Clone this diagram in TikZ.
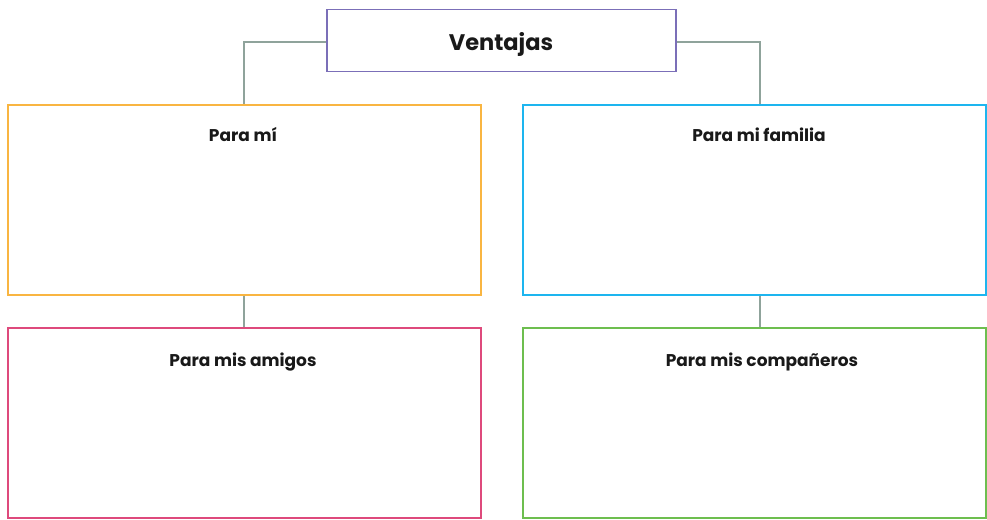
\documentclass[tikz,border=0pt]{standalone}
\usepackage{fontspec}
\setmainfont{Poppins}
\definecolor{cpurple}{HTML}{7B6FB8}
\definecolor{corange}{HTML}{F9B541}
\definecolor{cblue}{HTML}{1DB5EF}
\definecolor{cpink}{HTML}{DE4A7C}
\definecolor{cgreen}{HTML}{6DBE4F}
\definecolor{cgray}{HTML}{8FA39B}
\begin{document}
\begin{tikzpicture}[x=1pt,y=-1pt,
  boxframe/.style={draw=#1,line width=1.7pt,fill=white,rectangle,inner sep=0pt,
    minimum width=473pt,minimum height=190pt},
  conn/.style={draw=cgray,line width=1.8pt},
  lbl/.style={font=\fontsize{17}{20}\selectfont\bfseries,text=black!90,anchor=base},
  ttl/.style={font=\fontsize{22.5}{26}\selectfont\bfseries,text=black!90,anchor=base}]
\useasboundingbox (0,0) rectangle (987,519);
% boxes
\node[boxframe=cpurple,minimum width=349pt,minimum height=62pt] (t) at (501.5,40.5) {};
\node[boxframe=corange] (a) at (244.5,200) {};
\node[boxframe=cblue,minimum width=463pt] (b) at (754.5,200) {};
\node[boxframe=cpink] (c) at (244.5,423) {};
\node[boxframe=cgreen,minimum width=463pt] (d) at (754.5,423) {};
% connectors
\coordinate (tl) at (244,42);
\coordinate (tr) at (760,42);
\draw[conn] (t.west |- tl) -- (tl) -- (tl |- a.north);
\draw[conn] (t.east |- tr) -- (tr) -- (tr |- b.north);
\draw[conn] (tl |- a.south) -- (tl |- c.north);
\draw[conn] (tr |- b.south) -- (tr |- d.north);
% texts
\node[ttl] (lt) at (501,51) {Ventajas};
\node[lbl] (la) at (243,141) {Para mí};
\node[lbl] (lb) at (759,141) {Para mi familia};
\node[lbl] (lc) at (243,366) {Para mis amigos};
\node[lbl] (ld) at (762,366) {Para mis compañeros};
\end{tikzpicture}
\end{document}
